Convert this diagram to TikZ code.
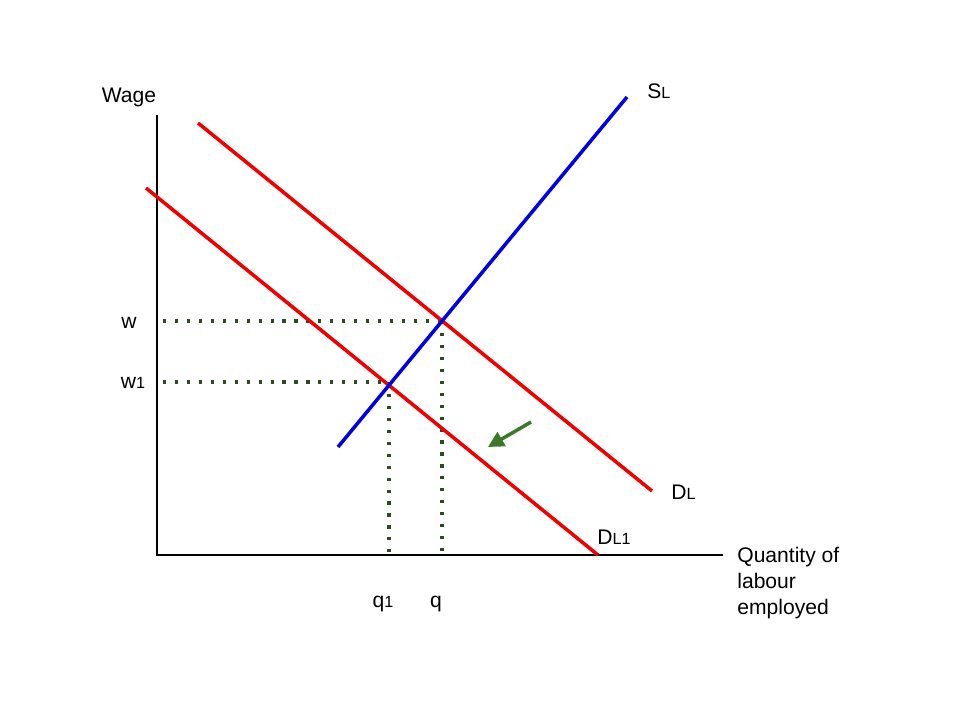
\documentclass[tikz,border=0pt]{standalone}
\usepackage{fontspec}
\setmainfont{Liberation Sans}
\usetikzlibrary{arrows.meta}
\newcommand{\smsub}[1]{{\fontsize{9.2}{10}\selectfont #1}}
\definecolor{dotgreen}{HTML}{2F4A22}
\definecolor{arrgreen}{HTML}{3C7A28}
\begin{document}
\begin{tikzpicture}[x=0.02cm,y=-0.02cm,
  axis/.style={line width=0.6pt,black},
  demand/.style={line width=2pt,red!95!black},
  supply/.style={line width=2pt,blue!90!black},
  guide/.style={line width=1.8pt,dotgreen,dash pattern=on 1.8pt off 5pt},
  lbl/.style={font=\fontsize{12}{14.7}\selectfont,inner sep=0pt}]
\useasboundingbox (0,0) rectangle (960,720);
\fill[white] (0,0) rectangle (960,720);
% axes
\coordinate (ytop) at (157,115);
\coordinate (origin) at (157,555);
\coordinate (xend) at (723,555);
\draw[axis] (ytop) -- (origin) -- (xend);
% curves
\coordinate (sl0) at (338,447);
\coordinate (sl1) at (627,97);
\coordinate (dl0) at (198,123);
\coordinate (dl1) at (652,491);
\coordinate (dla) at (146,188);
\coordinate (dlb) at (598,555);
% guides
\coordinate (wL) at (163,321);
\coordinate (wE) at (442,321);
\coordinate (qB) at (442,555);
\coordinate (w1L) at (163,382);
\coordinate (w1E) at (389,382);
\coordinate (q1B) at (389,555);
\draw[guide] (wL) -- (wE);
\draw[guide] (w1L) -- (w1E);
\draw[guide] (wE) -- (qB);
\draw[guide] (w1E) -- (q1B);
\draw[demand] (dl0) -- (dl1);
\draw[demand] (dla) -- (dlb);
\draw[supply] (sl0) -- (sl1);
% shift arrow
\coordinate (a0) at (531,422);
\coordinate (a1) at (488,447);
\draw[arrgreen,line width=2pt,-{Triangle[length=9pt,width=9pt]}] (a0) -- (a1);
% labels
\node[lbl] (wage) at (129,97) {Wage};
\node[lbl,anchor=west] (sllbl) at (647,91) {S\smsub{L}};
\node[lbl,anchor=west] (dllbl) at (671,492) {D\smsub{L}};
\node[lbl,anchor=west] (dl1lbl) at (597,537) {D\smsub{L1}};
\node[lbl] (wlbl) at (129,323) {w};
\node[lbl] (w1lbl) at (133,383) {w\smsub{1}};
\node[lbl] (q1lbl) at (383,604) {q\smsub{1}};
\node[lbl] (qlbl) at (436,604) {q};
\node[lbl,anchor=north west,align=left] (qty) at (737,547) {Quantity of\\labour\\employed};
\end{tikzpicture}
\end{document}
